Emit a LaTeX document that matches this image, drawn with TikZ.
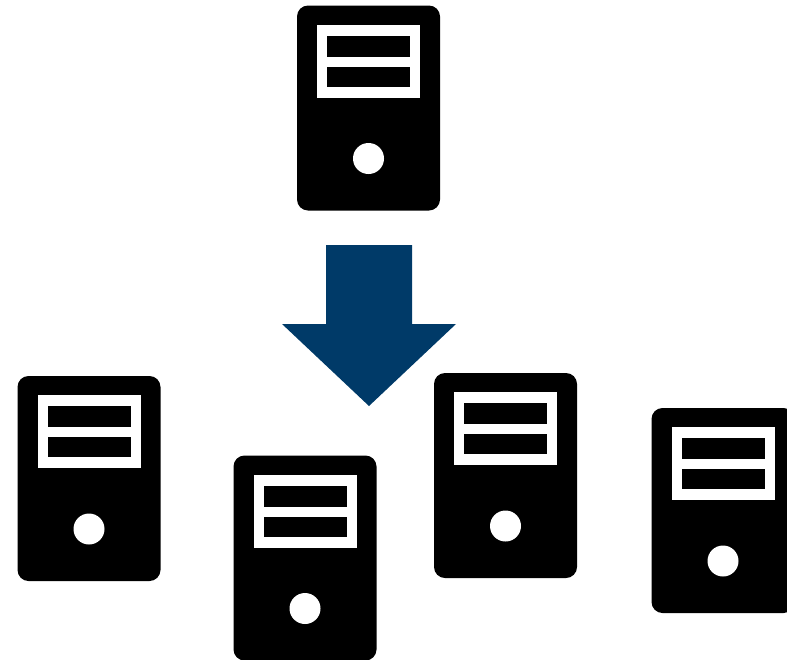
\documentclass[tikz,border=0pt]{standalone}
\definecolor{arrowblue}{HTML}{003A68}
\tikzset{
  x=1pt,y=-1pt,
  pics/serverpic/.style={code={
    \fill[black,rounded corners=11pt] (0,0) rectangle (143,205);
    \fill[white] (20,19) rectangle (123,92);
    \fill[black] (30,30) rectangle (113,51);
    \fill[black] (30,61) rectangle (113,81);
    \fill[white] (71.5,153) circle[radius=15.5];
  }}
}
\begin{document}
\begin{tikzpicture}
\useasboundingbox (0,0) rectangle (787,659);
\clip (0,0) rectangle (787,659);
\pic at (297,5.5) {serverpic};
\pic at (17.5,376) {serverpic};
\pic at (233.5,455.5) {serverpic};
\pic at (434,373) {serverpic};
\pic at (651.5,408) {serverpic};
\fill[arrowblue] (326,245) -- (412,245) -- (412,324) -- (456,324) -- (369,406) -- (282,324) -- (326,324) -- cycle;
\end{tikzpicture}
\end{document}
